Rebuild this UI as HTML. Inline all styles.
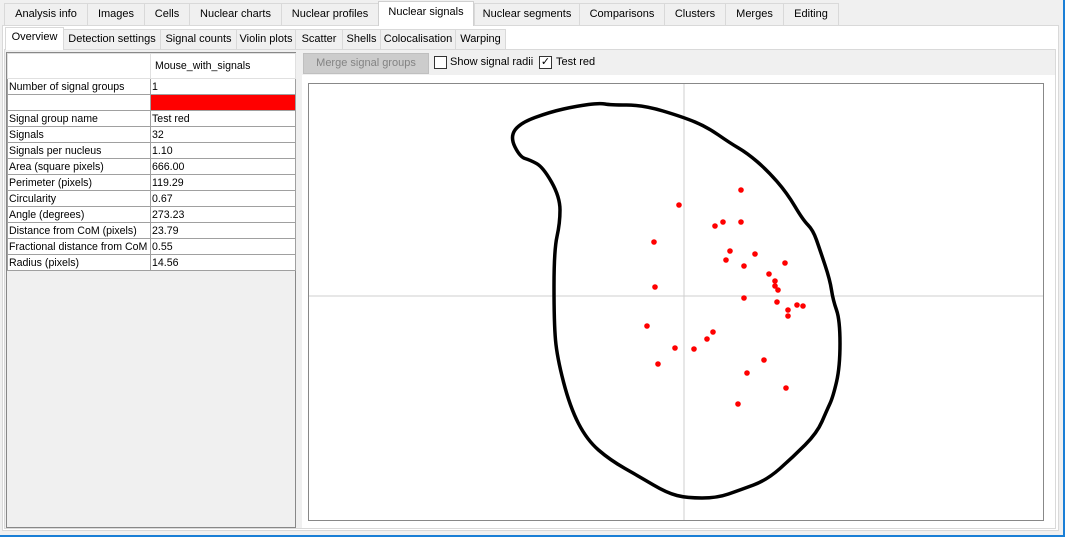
<!DOCTYPE html>
<html><head><meta charset="utf-8">
<style>
*{box-sizing:border-box;margin:0;padding:0}
body{width:1065px;height:537px;background:#f0f0f0;font-family:"Liberation Sans",Arial,sans-serif;font-size:11px;color:#000;position:relative;overflow:hidden}
.abs{position:absolute}
.tab{position:absolute;top:3px;height:22px;border:1px solid #d9d9d9;border-bottom:none;background:#f0f0f0;text-align:center;line-height:21px;font-size:11px}
.tab.sel{top:1px;height:25px;background:#fff;border-color:#d0d0d0}
.st{position:absolute;top:29px;height:20px;border:1px solid #d9d9d9;border-bottom:none;background:#f0f0f0;text-align:center;line-height:19px;font-size:11px}
.st.sel{top:27px;height:23px;background:#fff}
table{border-collapse:collapse;font-size:10.6px;table-layout:fixed}
td{border:1px solid #a0a0a0;height:16px;padding:0 0 0 1px;line-height:14px;white-space:nowrap;overflow:hidden}
</style></head><body>
<div class="abs" style="left:2px;top:25px;width:1057px;height:506px;border:1px solid #d9d9d9;background:#fff"></div>
<div class="tab" style="left:4px;width:84px">Analysis info</div>
<div class="tab" style="left:87px;width:58px">Images</div>
<div class="tab" style="left:144px;width:46px">Cells</div>
<div class="tab" style="left:189px;width:93px">Nuclear charts</div>
<div class="tab" style="left:281px;width:98px">Nuclear profiles</div>
<div class="tab sel" style="left:378px;width:96px">Nuclear signals</div>
<div class="tab" style="left:474px;width:106px">Nuclear segments</div>
<div class="tab" style="left:579px;width:86px">Comparisons</div>
<div class="tab" style="left:664px;width:62px">Clusters</div>
<div class="tab" style="left:725px;width:59px">Merges</div>
<div class="tab" style="left:783px;width:56px">Editing</div>

<div class="abs" style="left:4px;top:49px;width:1052px;height:480px;border:1px solid #d9d9d9;background:#f0f0f0"></div>
<div class="st sel" style="left:5px;width:59px">Overview</div>
<div class="st" style="left:63px;width:98px">Detection settings</div>
<div class="st" style="left:160px;width:77px">Signal counts</div>
<div class="st" style="left:236px;width:60px">Violin plots</div>
<div class="st" style="left:295px;width:48px">Scatter</div>
<div class="st" style="left:342px;width:39px">Shells</div>
<div class="st" style="left:380px;width:76px">Colocalisation</div>
<div class="st" style="left:455px;width:51px">Warping</div>

<div class="abs" style="left:6px;top:52px;width:290px;height:476px;border:1px solid #888;background:#f0f0f0">
<table style="width:288px;background:#fff">
<colgroup><col style="width:143px"><col style="width:145px"></colgroup>
<tr style="height:25px"><td style="border-color:#e0e0e0"></td><td style="border-color:#e0e0e0;padding-left:4px">Mouse_with_signals</td></tr>
<tr><td>Number of signal groups</td><td>1</td></tr>
<tr><td></td><td style="background:#ff0000"></td></tr>
<tr><td>Signal group name</td><td>Test red</td></tr>
<tr><td>Signals</td><td>32</td></tr>
<tr><td>Signals per nucleus</td><td>1.10</td></tr>
<tr><td>Area (square pixels)</td><td>666.00</td></tr>
<tr><td>Perimeter (pixels)</td><td>119.29</td></tr>
<tr><td>Circularity</td><td>0.67</td></tr>
<tr><td>Angle (degrees)</td><td>273.23</td></tr>
<tr><td>Distance from CoM (pixels)</td><td>23.79</td></tr>
<tr><td>Fractional distance from CoM</td><td>0.55</td></tr>
<tr><td>Radius (pixels)</td><td>14.56</td></tr>
</table></div>

<div class="abs" style="left:302px;top:75px;width:753px;height:453px;background:#fff"></div>
<div class="abs" style="left:303px;top:53px;width:126px;height:21px;background:#cccccc;border:1px solid #bfbfbf;color:#838383;text-align:center;line-height:19px">Merge signal groups</div>
<div class="abs" style="left:434px;top:56px;width:13px;height:13px;border:1px solid #333;background:#fff"></div>
<div class="abs" style="left:450px;top:56px">Show signal radii</div>
<div class="abs" style="left:539px;top:56px;width:13px;height:13px;border:1px solid #333;background:#fff;font-size:11px;line-height:11px;text-align:center">✓</div>
<div class="abs" style="left:556px;top:56px">Test red</div>

<svg class="abs" style="left:0;top:0" width="1065" height="537">
<rect x="308.5" y="83.5" width="735" height="437" fill="#fff" stroke="#888"/>
<g id="g"></g>
<line x1="0" y1="536" x2="1065" y2="536" stroke="#1a7fd6" stroke-width="2"/>
<line x1="1064" y1="0" x2="1064" y2="537" stroke="#1a7fd6" stroke-width="2"/>
</svg>
<script>
const outlineX=[-84,-74,-41,-1,23,46,63,83,103,119,129,136,146,149,156,156,149,143,133,109,83,56,33,3,-17,-44,-74,-97,-114,-127,-130,-130,-124,-124,-141,-154,-164,-174,-164,-134,-107];
const outlineY=[193,191,191,179,169,153,143,126,103,76,66,46,16,-4,-24,-71,-101,-114,-137,-161,-184,-194,-202,-202,-197,-181,-164,-144,-111,-61,-27,46,73,99,129,136,139,159,173,184,190];
const sigX=[57,-5,31,39,57,-30,46,71,42,60,101,85,91,91,94,-29,60,93,113,119,104,104,-37,29,23,-9,10,-26,80,63,102,54];
const sigY=[106,91,70,74,74,54,45,42,36,30,33,22,15,10,6,9,-2,-6,-9,-10,-14,-20,-30,-36,-43,-52,-53,-68,-64,-77,-92,-108];
const cx=684,cy=296;
const sx=v=>cx+v, sy=v=>cy-v;
const ns="http://www.w3.org/2000/svg";
const g=document.getElementById('g');
function mk(t,a){const e=document.createElementNS(ns,t);for(const k in a)e.setAttribute(k,a[k]);g.appendChild(e);return e;}
let h=mk('line',{x1:309,x2:1043,y1:sy(0),y2:sy(0),stroke:'#cfcfcf','stroke-width':1});


let v=mk('line',{x1:sx(0),x2:sx(0),y1:84,y2:520,stroke:'#cfcfcf','stroke-width':1});


// smooth closed curve through midpoints
const n=outlineX.length;
const P=outlineX.map((x,i)=>[sx(x),sy(outlineY[i])]);
const mid=i=>{const a=P[i%n],b=P[(i+1)%n];return [(a[0]+b[0])/2,(a[1]+b[1])/2];};
let d='M'+mid(0).join(',');
for(let i=1;i<=n;i++){const c=P[i%n],m=mid(i);d+=' Q'+c.join(',')+' '+m.join(',');}
d+='Z';
let p=mk('path',{d:d,fill:'none',stroke:'#000','stroke-width':3.5,'stroke-linejoin':'round'});


sigX.forEach((x,i)=>{const c=mk('circle',{cx:sx(x),cy:sy(sigY[i]),r:2.8,fill:'#ff0000'});

});
</script>
</body></html>
